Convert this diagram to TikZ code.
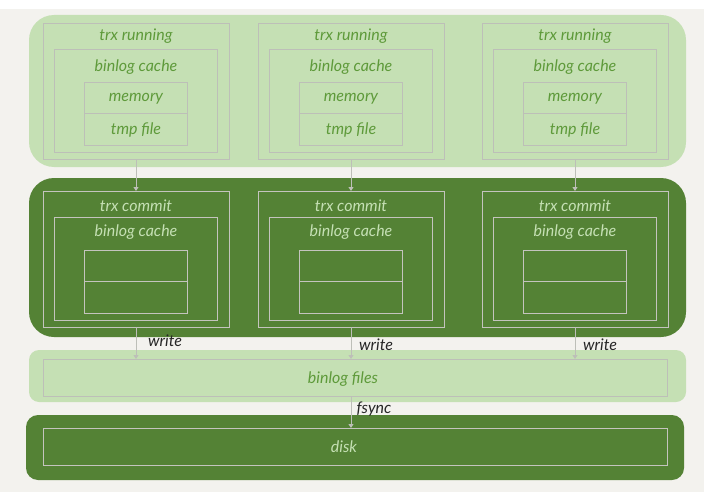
\documentclass[tikz,border=0pt]{standalone}
\usepackage{fontspec}
\setmainfont{Lato}
\usetikzlibrary{arrows.meta}
\definecolor{pagebg}{HTML}{F3F2EE}
\definecolor{darkgreen}{HTML}{548235}
\definecolor{lightgreen}{HTML}{C5E0B4}
\definecolor{lighttext}{HTML}{5E9A3A}
\definecolor{paletext}{HTML}{C5E0B4}
\definecolor{edgegrey}{HTML}{BDBFB8}
\definecolor{edgepale}{HTML}{C4C4BE}
\tikzset{
  lbl/.style={font=\itshape\fontsize{16}{18}\selectfont, inner sep=0pt},
  onlight/.style={lbl, text=lighttext},
  ondark/.style={lbl, text=paletext},
  flowlbl/.style={lbl, text=black!85},
  panellight/.style={fill=lightgreen, draw=none, inner sep=0pt, outer sep=0pt},
  paneldark/.style={fill=darkgreen, draw=none, inner sep=0pt, outer sep=0pt},
  boxlight/.style={draw=edgegrey, line width=0.8pt, inner sep=0pt, outer sep=0pt},
  boxdark/.style={draw=edgepale, line width=0.8pt, inner sep=0pt, outer sep=0pt},
  flow/.style={draw=edgegrey, line width=0.8pt, -{Triangle[width=5pt,length=4pt]}},
}
\begin{document}
\begin{tikzpicture}[x=1pt,y=-1pt]
  % canvas
  \fill[pagebg] (0,0) rectangle (704,492);
  \fill[white] (0,0) rectangle (704,9);
  \useasboundingbox (0,0) rectangle (704,492);

  % stage panels
  \node[panellight, rounded corners=25pt, minimum width=657pt, minimum height=152pt] (running) at (357.5,91) {};
  \node[paneldark, rounded corners=25pt, minimum width=657pt, minimum height=159pt] (commit) at (357.5,257.5) {};
  \node[panellight, rounded corners=10pt, minimum width=657pt, minimum height=52pt] (files) at (357.5,376) {};
  \node[paneldark, rounded corners=12pt, minimum width=658pt, minimum height=65pt] (disk) at (355,447.5) {};

  % one column per transaction
  \foreach \i/\cx in {1/136, 2/351, 3/575} {
    % trx running
    \node[boxlight, minimum width=186pt, minimum height=136pt] (run\i) at (\cx,91) {};
    \node[onlight] (runt\i) at (\cx,36) {trx running};
    \node[boxlight, minimum width=163pt, minimum height=103pt] (rcache\i) at (\cx,100.5) {};
    \node[onlight] (rcachet\i) at (\cx,67) {binlog cache};
    \node[boxlight, minimum width=103pt, minimum height=31.5pt] (mem\i) at (\cx,97.75) {};
    \node[boxlight, minimum width=103pt, minimum height=31.5pt] (tmp\i) at (\cx,129.25) {};
    \node[onlight] (memt\i) at (\cx,99) {memory};
    \node[onlight] (tmpt\i) at (\cx,130) {tmp file};
    % trx commit
    \node[boxdark, minimum width=186pt, minimum height=136pt] (com\i) at (\cx,259) {};
    \node[ondark] (comt\i) at (\cx,206) {trx commit};
    \node[boxdark, minimum width=163pt, minimum height=103pt] (ccache\i) at (\cx,268.5) {};
    \node[ondark] (ccachet\i) at (\cx,232) {binlog cache};
    \node[boxdark, minimum width=103pt, minimum height=31.5pt] (cup\i) at (\cx,265.75) {};
    \node[boxdark, minimum width=103pt, minimum height=31.5pt] (clow\i) at (\cx,297.25) {};
  }

  % binlog files and disk
  \node[boxlight, minimum width=624pt, minimum height=37pt] (filesbox) at (355,377.5) {};
  \node[onlight] (filest) at (343,379) {binlog files};
  \node[boxdark, minimum width=624pt, minimum height=37pt] (diskbox) at (355,446.5) {};
  \node[ondark] (diskt) at (344,447) {disk};

  % flow between stages
  \foreach \i in {1,2,3} {
    \draw[flow] (run\i.south) -- (com\i.north);
    \draw[flow] (com\i.south) -- (com\i.south |- filesbox.north);
  }
  \draw[flow] (filesbox.south -| com2.south) -- (diskbox.north -| com2.south);

  \node[flowlbl] (w1) at (165,341) {write};
  \node[flowlbl] (w2) at (376,345) {write};
  \node[flowlbl] (w3) at (600,345) {write};
  \node[flowlbl] (fs) at (374,409) {fsync};
\end{tikzpicture}
\end{document}
